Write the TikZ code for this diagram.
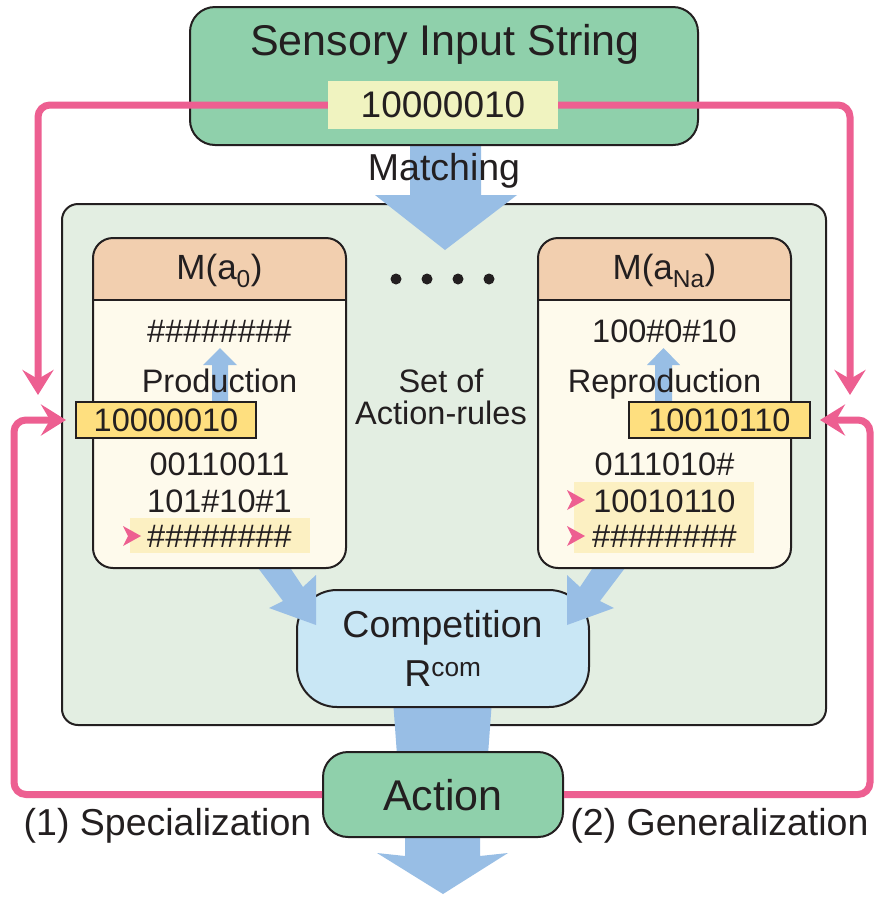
\documentclass[tikz,border=0pt]{standalone}
\usepackage{fontspec}
\setmainfont{Liberation Sans}
\usetikzlibrary{arrows.meta}
\definecolor{ink}{HTML}{231F20}
\definecolor{mint}{HTML}{8FD0AB}
\definecolor{inpy}{HTML}{F0F3C0}
\definecolor{contbg}{HTML}{E3EEE2}
\definecolor{peach}{HTML}{F2CFAF}
\definecolor{cream}{HTML}{FEFAEC}
\definecolor{gold}{HTML}{FEDF7F}
\definecolor{bandc}{HTML}{FCF0C2}
\definecolor{compb}{HTML}{C9E7F5}
\definecolor{fatb}{HTML}{98BEE5}
\definecolor{pinkc}{HTML}{ED5F91}
\newcommand\fsz[1]{\fontsize{#1}{#1}\selectfont}
\begin{document}
\begin{tikzpicture}[x=1pt,y=-1pt,
  edgeline/.style={draw=ink,line width=2pt},
  lbl/.style={anchor=base,inner sep=0pt,text=ink},
  loopline/.style={draw=pinkc,line width=7pt,rounded corners=12pt,-{Stealth[length=25pt,width=31pt,inset=9pt]}},
  boxnode/.style={edgeline,inner sep=0pt},
  goldbox/.style={boxnode,fill=gold,text=ink,font=\fsz{32.5},minimum width=180pt,minimum height=36pt}]
\path[fill=white] (0,0) rectangle (875,898);
\path[use as bounding box] (0,0) rectangle (875,898);

% container
\node[boxnode,fill=contbg,rounded corners=16pt,minimum width=764pt,minimum height=521pt] (set) at (444,464.5) {};

% fat blue arrows
\fill[fatb] (410,140) -- (410,195) -- (375,195) -- (445,250) -- (517,195) -- (481,195) -- (481,140) -- cycle;
\fill[fatb] (393,700) -- (397,755) -- (488,755) -- (492,700) -- cycle;
\fill[fatb] (405,830) -- (405,856) -- (377,853) -- (443,894) -- (508,853) -- (480,856) -- (480,830) -- cycle;

% competition and action
\node[boxnode,fill=compb,rounded corners=40pt,minimum width=292pt,minimum height=117pt] (comp) at (443,648.5) {};
\node[boxnode,fill=mint,rounded corners=25pt,minimum width=240pt,minimum height=85pt] (action) at (443,794.5) {};

% diagonal arrows
\fill[fatb] (252,560) -- (283,601) -- (269,608) -- (316,625) -- (316,575) -- (303,587) -- (285,560) -- cycle;
\fill[fatb] (631,560) -- (600,601) -- (614,608) -- (567,625) -- (567,575) -- (580,587) -- (598,560) -- cycle;

% top box
\node[boxnode,fill=mint,rounded corners=25pt,minimum width=508pt,minimum height=138pt] (sensory) at (444,76) {};
\node[fill=inpy,minimum width=230pt,minimum height=48pt,inner sep=0pt,text=ink,font=\fsz{37}] (input) at (443,105) {10000010};
\node[lbl,font=\fsz{43}] (title) at (445,55) {Sensory Input String};
\node[lbl,font=\fsz{37.5}] (matching) at (444,180) {Matching};

% pink loops
\coordinate (ldown) at (38,395);
\coordinate (rdown) at (850,395);
\coordinate (lcorner) at (14,420);
\coordinate (lin) at (66,420);
\coordinate (rcorner) at (870,420);
\coordinate (rin) at (820,420);
\draw[loopline] (input.west) -| (ldown);
\draw[loopline] (input.east) -| (rdown);
\draw[loopline] (action.west) -| (lcorner) -- (lin);
\draw[loopline] (action.east) -| (rcorner) -- (rin);

% left M box
\begin{scope}
\clip[rounded corners=20pt] (93,238) rectangle (346,568);
\fill[cream] (93,238) rectangle (346,568);
\fill[peach] (93,238) rectangle (346,300);
\end{scope}
\draw[edgeline] (93,300) -- (346,300);
\node[boxnode,rounded corners=20pt,minimum width=253pt,minimum height=330pt] (m0) at (219.5,403) {};
% right M box
\begin{scope}
\clip[rounded corners=20pt] (538,238) rectangle (791,568);
\fill[cream] (538,238) rectangle (791,568);
\fill[peach] (538,238) rectangle (791,300);
\end{scope}
\draw[edgeline] (538,300) -- (791,300);
\node[boxnode,rounded corners=20pt,minimum width=253pt,minimum height=330pt] (mna) at (664.5,403) {};

% small up arrows
\fill[fatb] (212,405) -- (212,365) -- (203,365) -- (220,348) -- (237,365) -- (228,365) -- (228,405) -- cycle;
\fill[fatb] (655,405) -- (655,365) -- (647,365) -- (663.5,348) -- (680,365) -- (672,365) -- (672,405) -- cycle;

% bands
\fill[bandc] (130,518) rectangle (310,553);
\fill[bandc] (574,482) rectangle (754,553);
\fill[pinkc] (123,526) -- (141,536) -- (123,546) -- (128,536) -- cycle;
\fill[pinkc] (567,490) -- (585,500) -- (567,510) -- (572,500) -- cycle;
\fill[pinkc] (567,526) -- (585,536) -- (567,546) -- (572,536) -- cycle;

% left texts
\node[lbl,font=\fsz{35}] (h0) at (219.5,279) {M(a\textsubscript{0})};
\node[lbl,font=\fsz{32.5}] (l1) at (219.5,342) {\#\#\#\#\#\#\#\#};
\node[lbl,font=\fsz{32.5}] (prod) at (219.5,392) {Production};
\node[goldbox] (g0) at (166,420) {10000010};
\node[lbl,font=\fsz{32.5}] (l2) at (219.5,475) {00110011};
\node[lbl,font=\fsz{32.5}] (l3) at (219.5,512) {101\#10\#1};
\node[lbl,font=\fsz{32.5}] (l4) at (219.5,547) {\#\#\#\#\#\#\#\#};

% right texts
\node[lbl,font=\fsz{35}] (hna) at (664.5,279) {M(a\textsubscript{Na})};
\node[lbl,font=\fsz{32.5}] (r1) at (664.5,342) {100\#0\#10};
\node[lbl,font=\fsz{32.5}] (reprod) at (664.5,392) {Reproduction};
\node[goldbox,minimum width=181pt] (gna) at (719.5,420) {10010110};
\node[lbl,font=\fsz{32.5}] (r2) at (664.5,475) {0111010\#};
\node[lbl,font=\fsz{32.5}] (r3) at (664.5,512) {10010110};
\node[lbl,font=\fsz{32.5}] (r4) at (664.5,547) {\#\#\#\#\#\#\#\#};

% middle
\foreach \dx [count=\i] in {396,427,458,489} \fill[ink] (\dx,279) circle (5.5) coordinate (dot\i);
\node[lbl,font=\fsz{32.5}] (set1) at (441,392) {Set of};
\node[lbl,font=\fsz{32.5}] (set2) at (441,424) {Action-rules};

\node[lbl,font=\fsz{37.5}] (comp1) at (442.5,637) {Competition};
\node[lbl,font=\fsz{37.5}] (comp2) at (443,686) {R\textsuperscript{com}};
\node[lbl,font=\fsz{43}] (act) at (443,810) {Action};

\node[lbl,font=\fsz{37.5}] (spec) at (167.5,835) {(1) Specialization};
\node[lbl,font=\fsz{37.5}] (gen) at (719.5,835) {(2) Generalization};
\end{tikzpicture}
\end{document}
